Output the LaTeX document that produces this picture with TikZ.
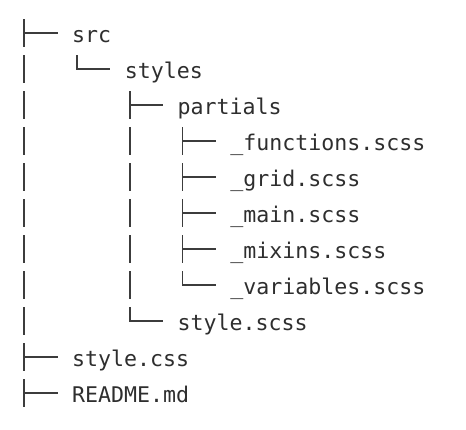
\documentclass[tikz,border=0pt]{standalone}
\usepackage{fontspec}
\setmonofont{DejaVu Sans Mono}
\definecolor{txt}{HTML}{2E2E2E}
\definecolor{ln}{HTML}{3C3C3C}
\tikzset{
  treeline/.style={draw=ln, line width=1.8pt},
  entry/.style={anchor=base west, inner sep=0pt, text=txt, font=\ttfamily\fontsize{21.6}{22}\selectfont},
}
\newcommand\glyphT[2]{\draw[treeline] ({24.3+52.7*#1},{19.3+36*#2}) -- ++(0,28) ({24.3+52.7*#1},{33.3+36*#2}) -- ++(33.4,0);}
\newcommand\glyphL[2]{\draw[treeline] ({24.3+52.7*#1},{19.3+36*#2}) |- ({57.7+52.7*#1},{33.3+36*#2});}
\newcommand\glyphI[2]{\draw[treeline] ({24.3+52.7*#1},{19.3+36*#2}) -- ++(0,28);}
\begin{document}
\begin{tikzpicture}[x=1pt,y=-1pt]
\useasboundingbox (0,0) rectangle (466,430);
% names
\node[entry] (n0) at (72,42.3) {src};
\node[entry] (n1) at (124.7,78.3) {styles};
\node[entry] (n2) at (177.4,114.3) {partials};
\node[entry] (n3) at (230.1,150.3) {\_functions.scss};
\node[entry] (n4) at (230.1,186.3) {\_grid.scss};
\node[entry] (n5) at (230.1,222.3) {\_main.scss};
\node[entry] (n6) at (230.1,258.3) {\_mixins.scss};
\node[entry] (n7) at (230.1,294.3) {\_variables.scss};
\node[entry] (n8) at (177.4,330.3) {style.scss};
\node[entry] (n9) at (72,366.3) {style.css};
\node[entry] (n10) at (72,402.3) {README.md};
% tree glyphs
\glyphT{0}{0}
\glyphI{0}{1} \glyphL{1}{1}
\glyphI{0}{2} \glyphT{2}{2}
\glyphI{0}{3} \glyphI{2}{3} \glyphT{3}{3}
\glyphI{0}{4} \glyphI{2}{4} \glyphT{3}{4}
\glyphI{0}{5} \glyphI{2}{5} \glyphT{3}{5}
\glyphI{0}{6} \glyphI{2}{6} \glyphT{3}{6}
\glyphI{0}{7} \glyphI{2}{7} \glyphL{3}{7}
\glyphI{0}{8} \glyphL{2}{8}
\glyphT{0}{9}
\glyphT{0}{10}
\end{tikzpicture}
\end{document}
